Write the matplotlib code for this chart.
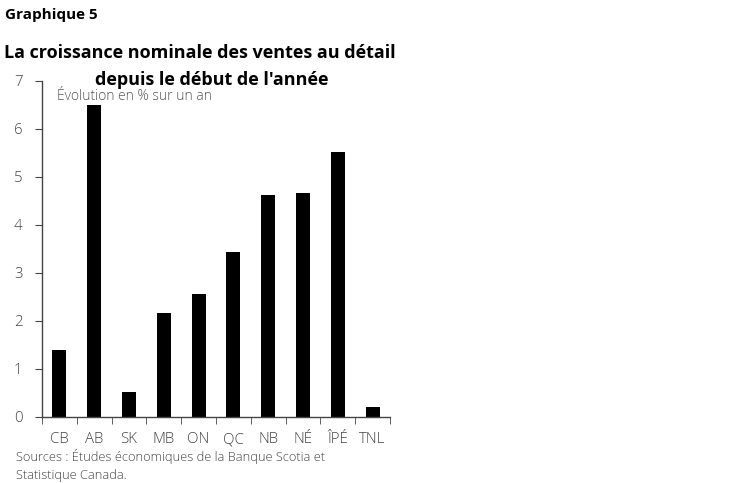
import matplotlib
matplotlib.use("Agg")
import matplotlib.pyplot as plt
import numpy as np

categories = ["CB", "AB", "SK", "MB", "ON", "QC", "NB", "NÉ", "ÎPÉ", "TNL"]
values = [1.40, 6.51, 0.52, 2.17, 2.56, 3.43, 4.63, 4.67, 5.53, 0.21]
yticks = [0, 1, 2, 3, 4, 5, 6, 7]

plt.rcParams['font.family'] = ['Open Sans', 'DejaVu Sans']

fig = plt.figure(figsize=(7.48, 4.83), dpi=100)
ax = fig.add_axes([42/748, 1-417/483, (390-42)/748, (417-81)/483])

x = np.arange(len(categories))
ax.bar(x, values, width=0.4, color="black")
ax.set_xlim(-0.5, len(categories)-0.5)
ax.set_ylim(0, 7)
ax.set_yticks(yticks)
ax.set_yticklabels([str(t) for t in yticks])
ax.set_xticks(x)
ax.set_xticklabels(categories)
ax.set_xticks(np.arange(-0.5, len(categories)), minor=True)

for s in ["top", "right"]:
    ax.spines[s].set_visible(False)
for s in ["left", "bottom"]:
    ax.spines[s].set_color("#444444")
    ax.spines[s].set_linewidth(1.0)

ax.tick_params(axis="x", which="major", length=0, pad=11, labelsize=10.8, labelcolor="#444444")
ax.tick_params(axis="x", which="minor", length=5, direction="out", color="#444444")
ax.tick_params(axis="y", length=5, direction="out", color="#444444", pad=9, labelsize=10.8, labelcolor="#444444")
for lbl in ax.get_xticklabels() + ax.get_yticklabels():
    lbl.set_fontweight("light")

fig.text(5/748, 1-15/483, "Graphique 5", fontsize=11, fontweight="bold", va="center", ha="left")
fig.text(200/748, 1-53/483, "La croissance nominale des ventes au détail", fontsize=13,
         fontweight="bold", va="center", ha="center")
fig.text(212/748, 1-80/483, "depuis le début de l'année", fontsize=13,
         fontweight="bold", va="center", ha="center")
fig.text(57/748, 1-97/483, "Évolution en % sur un an", fontsize=10, color="#555555",
         va="center", ha="left", fontweight="light")
fig.text(16/748, 1-457/483, "Sources : Études économiques de la Banque Scotia et", fontsize=9.3,
         color="#444444", va="center", ha="left", fontweight="light")
fig.text(16/748, 1-475/483, "Statistique Canada.", fontsize=9.3,
         color="#444444", va="center", ha="left", fontweight="light")

fig.savefig("out.png", dpi=100)
